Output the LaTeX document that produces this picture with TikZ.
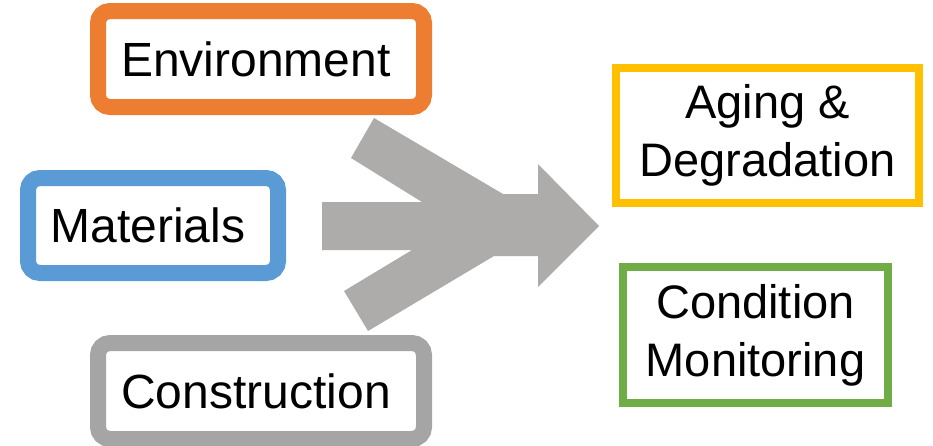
\documentclass[tikz,border=0pt]{standalone}
\usepackage{fontspec}
\setmainfont{Liberation Sans}
\definecolor{envorange}{HTML}{ED7D31}
\definecolor{matblue}{HTML}{5B9BD5}
\definecolor{congray}{HTML}{A5A5A5}
\definecolor{aggold}{HTML}{FFC000}
\definecolor{cmgreen}{HTML}{70AD47}
\definecolor{arrowgray}{HTML}{AEABAB}
\begin{document}
\begin{tikzpicture}[x=1pt,y=-1pt,
  leftbox/.style={draw, line width=16pt, rounded corners=12pt, fill=white, inner sep=0pt,
    font=\fontsize{48}{58}\selectfont, execute at begin node={\hspace*{-10pt}}},
  rightbox/.style={draw, line width=8pt, fill=white, inner sep=0pt, align=center,
    font=\fontsize{47}{58}\selectfont}]
\useasboundingbox (0,0) rectangle (933,445);
\clip (0,0) rectangle (933,445);
\fill[arrowgray] (374,118) -- (503,194) -- (538,194) -- (538,164) -- (599,226)
  -- (538,287) -- (538,256) -- (494,256) -- (368,331) -- (344,291) -- (412,250)
  -- (322,250) -- (322,202) -- (422,202) -- (351,158) -- cycle;
\node[leftbox, draw=envorange, minimum width=326pt, minimum height=96pt] (env) at (261,59) {Environment};
\node[leftbox, draw=matblue, minimum width=250pt, minimum height=95pt] (mat) at (153,225.5) {Materials};
\node[leftbox, draw=congray, minimum width=326pt, minimum height=96pt] (con) at (261,391) {Construction};
\node[rightbox, draw=aggold, minimum width=303pt, minimum height=135pt] (age) at (767.5,135.5) {Aging \&\\Degradation};
\node[rightbox, draw=cmgreen, minimum width=265pt, minimum height=136pt] (cm) at (755.5,335) {Condition\\Monitoring};
\end{tikzpicture}
\end{document}
